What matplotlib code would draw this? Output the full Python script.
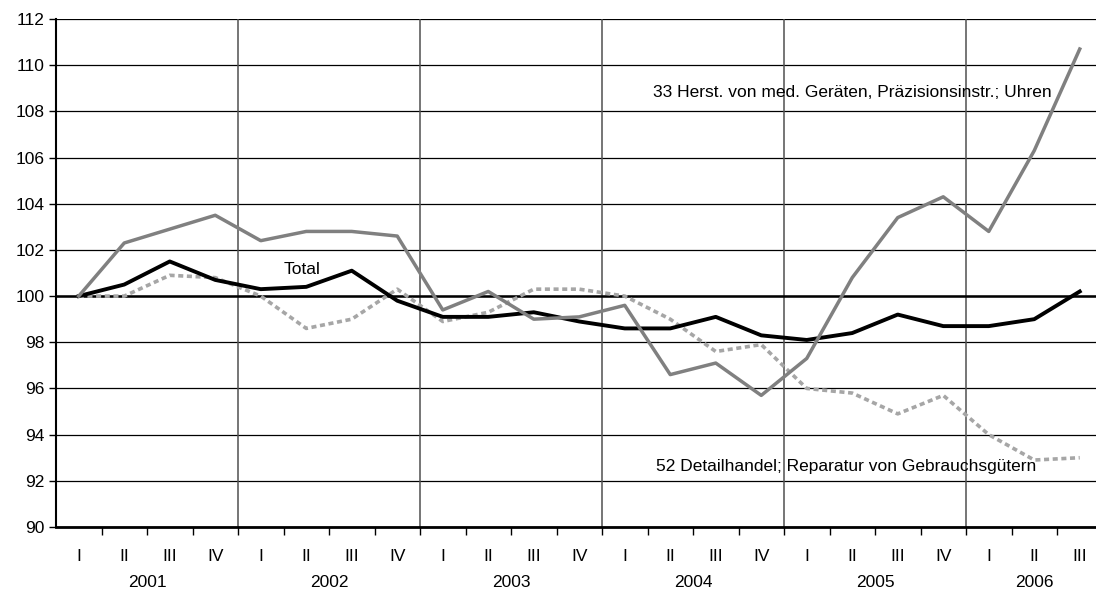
import matplotlib.pyplot as plt

plt.rcParams['font.family'] = ['Liberation Sans', 'DejaVu Sans']

# quarters 2001 I .. 2006 III
quarters = ['I', 'II', 'III', 'IV'] * 5 + ['I', 'II', 'III']
years = ['2001', '2002', '2003', '2004', '2005', '2006']

total = [100.0, 100.5, 101.5, 100.7, 100.3, 100.4, 101.1, 99.8,
         99.1, 99.1, 99.3, 98.9, 98.6, 98.6, 99.1, 98.3,
         98.1, 98.4, 99.2, 98.7, 98.7, 99.0, 100.2]
herst_33 = [100.0, 102.3, 102.9, 103.5, 102.4, 102.8, 102.8, 102.6,
            99.4, 100.2, 99.0, 99.1, 99.6, 96.6, 97.1, 95.7,
            97.3, 100.8, 103.4, 104.3, 102.8, 106.3, 110.7]
detail_52 = [100.0, 100.0, 100.9, 100.8, 100.0, 98.6, 99.0, 100.3,
             98.9, 99.3, 100.3, 100.3, 100.0, 99.0, 97.6, 97.9,
             96.0, 95.8, 94.9, 95.7, 94.0, 92.9, 93.0]

fs = 12.5

fig = plt.figure(figsize=(10.96, 5.94), dpi=100)
ax = fig.add_axes([56 / 1096, 67 / 594, (1102.5 - 56) / 1096, 508 / 594])

x = list(range(len(quarters)))

# grid
for yv in range(90, 113, 2):
    ax.axhline(yv, color='black', lw=0.9, zorder=1)
ax.axhline(100, color='black', lw=1.8, zorder=2)
for k in range(1, len(years)):
    ax.axvline(4 * k - 0.5, color='#505050', lw=1.1, zorder=1)

ax.plot(x, detail_52, color='#a6a6a6', lw=2.6, linestyle=(0, (1.4, 1.0)),
        dash_capstyle='butt', zorder=3)
ax.plot(x, total, color='black', lw=2.8, zorder=4)
ax.plot(x, herst_33, color='#808080', lw=2.5, zorder=5)

ax.text(4.5, 101.15, 'Total', fontsize=fs, va='center', ha='left')
ax.text(12.62, 108.8, '33 Herst. von med. Geräten, Präzisionsinstr.; Uhren',
        fontsize=fs, va='center', ha='left')
ax.text(12.69, 92.6, '52 Detailhandel; Reparatur von Gebrauchsgütern',
        fontsize=fs, va='center', ha='left')

ax.set_xlim(-0.5, len(quarters) - 0.5)
ax.set_ylim(90, 112)
ax.set_yticks(range(90, 113, 2))
ax.tick_params(axis='y', labelsize=fs, length=5, width=1, direction='out', pad=3)

ax.set_xticks(x)
ax.set_xticklabels(quarters, fontsize=fs)
ax.tick_params(axis='x', which='major', length=0, pad=16)
ax.set_xticks([i - 0.5 for i in range(1, len(quarters))], minor=True)
ax.tick_params(axis='x', which='minor', length=6, width=1, direction='out')

for k, yr in enumerate(years):
    n = min(4, len(quarters) - 4 * k)
    ax.text(4 * k + (n - 1) / 2, -0.11, yr, transform=ax.get_xaxis_transform(),
            ha='center', va='center', fontsize=fs)

for s in ['top', 'right']:
    ax.spines[s].set_visible(False)
ax.spines['left'].set_linewidth(1.5)
ax.spines['bottom'].set_linewidth(2.0)

fig.savefig('out.png', dpi=100)
